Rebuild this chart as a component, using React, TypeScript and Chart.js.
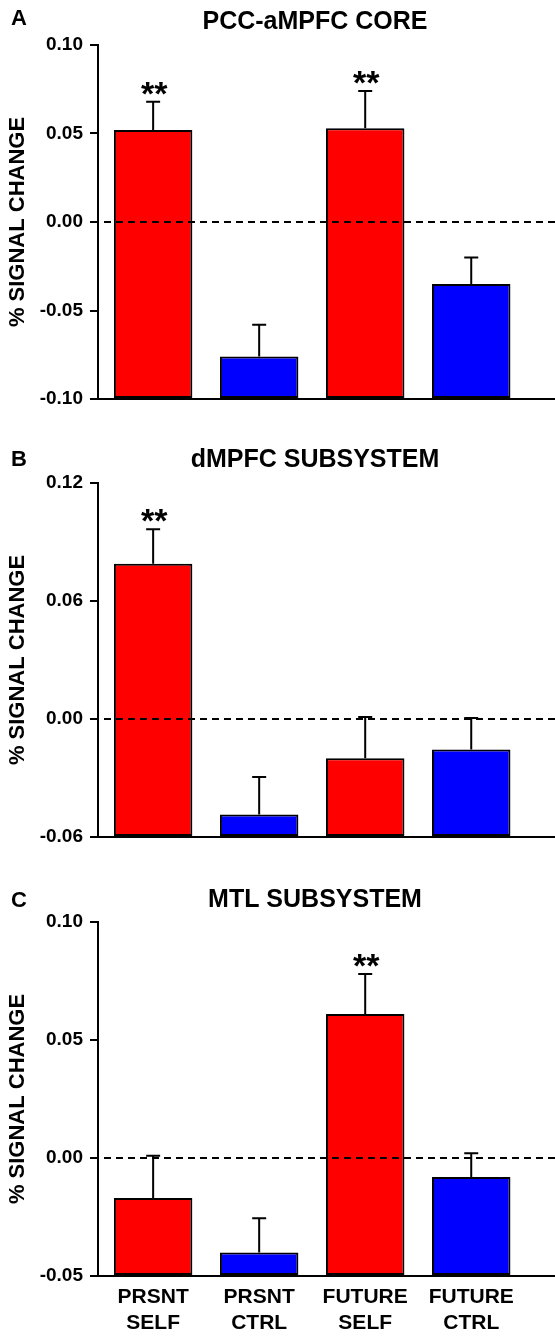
import React, { useEffect, useRef } from 'react';
import { Chart, registerables } from 'chart.js';

Chart.register(...registerables);

const FONT = '"Liberation Sans", Arial, Helvetica, sans-serif';
Chart.defaults.font.family = FONT;
Chart.defaults.color = '#000';

// ---- data ----
const categories = [
  ['PRSNT', 'SELF'],
  ['PRSNT', 'CTRL'],
  ['FUTURE', 'SELF'],
  ['FUTURE', 'CTRL'],
];
const barColors = ['#ff0000', '#0000ff', '#ff0000', '#0000ff'];

const letterA = 'A';
const titleA = 'PCC-aMPFC CORE';
const valuesA = [0.052, -0.076, 0.053, -0.035];
const errorsA = [0.016, 0.018, 0.021, 0.015];
const marksA = ['**', '', '**', ''];
const ticksA = [-0.1, -0.05, 0, 0.05, 0.1];

const letterB = 'B';
const titleB = 'dMPFC SUBSYSTEM';
const valuesB = [0.079, -0.0485, -0.02, -0.0155];
const errorsB = [0.0175, 0.019, 0.021, 0.016];
const marksB = ['**', '', '', ''];
const ticksB = [-0.06, 0, 0.06, 0.12];

const letterC = 'C';
const titleC = 'MTL SUBSYSTEM';
const valuesC = [-0.017, -0.04, 0.061, -0.008];
const errorsC = [0.018, 0.0145, 0.017, 0.01];
const marksC = ['', '', '**', ''];
const ticksC = [-0.05, 0, 0.05, 0.1];

const yTitle = '% SIGNAL CHANGE';

type PanelProps = {
  letter: string;
  title: string;
  values: number[];
  errors: number[];
  marks: string[];
  ticks: number[];
  showX: boolean;
  top: number;
  height: number;
  plotTop: number;
  bottomPad: number;
  xHeight: number;
  titleBase: number;
  letterBase: number;
};

function Panel(p: PanelProps) {
  const ref = useRef<HTMLCanvasElement | null>(null);
  useEffect(() => {
    if (!ref.current) return;
    const yMin = p.ticks[0];
    const yMax = p.ticks[p.ticks.length - 1];

    const overlay = {
      id: 'overlay',
      afterDatasetsDraw(chart: any) {
        const { ctx, chartArea, scales } = chart;
        const x = scales.x;
        const y = scales.y;
        ctx.save();
        // dashed zero line
        const y0 = y.getPixelForValue(0);
        ctx.strokeStyle = '#000';
        ctx.lineWidth = 2;
        ctx.setLineDash([7, 5]);
        ctx.beginPath();
        ctx.moveTo(chartArea.left + 6, y0);
        ctx.lineTo(chartArea.right, y0);
        ctx.stroke();
        ctx.setLineDash([]);
        // error bars (upper only)
        p.values.forEach((v, i) => {
          const px = x.getPixelForValue(i);
          const yv = y.getPixelForValue(v);
          const ye = y.getPixelForValue(v + p.errors[i]);
          ctx.beginPath();
          ctx.moveTo(px, yv);
          ctx.lineTo(px, ye);
          ctx.moveTo(px - 7, ye);
          ctx.lineTo(px + 7, ye);
          ctx.stroke();
          if (p.marks[i]) {
            ctx.fillStyle = '#000';
            ctx.font = `bold 34px ${FONT}`;
            ctx.textAlign = 'center';
            ctx.textBaseline = 'alphabetic';
            ctx.fillText(p.marks[i], px + 1, ye + 3);
          }
        });
        ctx.restore();
      },
      afterDraw(chart: any) {
        const { ctx } = chart;
        ctx.save();
        ctx.fillStyle = '#000';
        ctx.textBaseline = 'alphabetic';
        ctx.font = `bold 25px ${FONT}`;
        ctx.textAlign = 'center';
        ctx.fillText(p.title, 315, p.titleBase);
        ctx.font = `bold 22px ${FONT}`;
        ctx.textAlign = 'left';
        ctx.fillText(p.letter, 11, p.letterBase);
        ctx.restore();
      },
    };

    const chart = new Chart(ref.current, {
      type: 'bar',
      data: {
        datasets: [
          {
            data: p.values.map((v, i) => ({ x: i, y: v })),
            backgroundColor: barColors,
            borderColor: '#000',
            borderWidth: 2,
            borderSkipped: false,
            base: yMin,
            categoryPercentage: 1,
            barPercentage: 0.74,
          } as any,
        ],
      },
      options: {
        responsive: false,
        animation: false,
        devicePixelRatio: 1,
        layout: { padding: { left: 0, right: 0, top: p.plotTop, bottom: p.bottomPad } },
        plugins: {
          legend: { display: false },
          tooltip: { enabled: false },
          title: { display: false },
        },
        scales: {
          x: {
            type: 'linear',
            min: -0.52,
            max: 3.79,
            offset: false,
            afterBuildTicks: (s: any) => {
              s.ticks = categories.map((_, i) => ({ value: i }));
            },
            afterFit: (s: any) => {
              s.height = p.xHeight;
            },
            ticks: {
              display: p.showX,
              autoSkip: false,
              maxRotation: 0,
              minRotation: 0,
              padding: 8,
              color: '#000',
              font: { size: 21, weight: 'bold', lineHeight: 1.24 },
              callback: (v: any) => categories[v] as any,
            },
            grid: { display: true, drawOnChartArea: false, drawTicks: false, offset: false },
            border: { display: true, color: '#000', width: 2 },
          },
          y: {
            type: 'linear',
            min: yMin,
            max: yMax,
            afterBuildTicks: (s: any) => {
              s.ticks = p.ticks.map((v) => ({ value: v }));
            },
            afterFit: (s: any) => {
              s.width = 98;
            },
            ticks: {
              padding: 7,
              color: '#000',
              font: { size: 19, weight: 'bold' },
              callback: (v: any) => Number(v).toFixed(2),
            },
            grid: {
              display: true,
              drawOnChartArea: false,
              drawTicks: true,
              tickLength: 8,
              color: '#000',
              lineWidth: 2,
            },
            border: { display: true, color: '#000', width: 2 },
            title: {
              display: true,
              text: yTitle,
              color: '#000',
              font: { size: 22, weight: 'bold' },
              padding: { top: 5, bottom: 0 },
            },
          },
        },
      } as any,
      plugins: [overlay],
    });
    return () => chart.destroy();
  }, []);
  return (
    <canvas
      ref={ref}
      width={555}
      height={p.height}
      style={{ position: 'absolute', left: 0, top: p.top, width: 555, height: p.height, display: 'block' }}
    />
  );
}

export default function App() {
  return (
    <div style={{ position: 'absolute', left: 0, top: 0, width: 555, height: 1337, background: '#fff' }}>
      <Panel letter={letterA} title={titleA} values={valuesA} errors={errorsA} marks={marksA} ticks={ticksA}
        showX={false} top={0} height={430} plotTop={45} bottomPad={31} xHeight={0} titleBase={29} letterBase={25} />
      <Panel letter={letterB} title={titleB} values={valuesB} errors={errorsB} marks={marksB} ticks={ticksB}
        showX={false} top={430} height={430} plotTop={53} bottomPad={23} xHeight={0} titleBase={37} letterBase={36} />
      <Panel letter={letterC} title={titleC} values={valuesC} errors={errorsC} marks={marksC} ticks={ticksC}
        showX={true} top={860} height={477} plotTop={62} bottomPad={0} xHeight={61} titleBase={47} letterBase={47} />
    </div>
  );
}
